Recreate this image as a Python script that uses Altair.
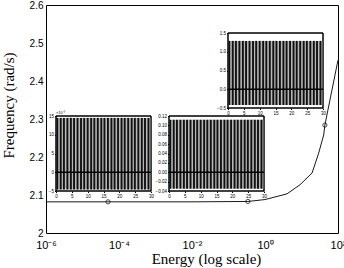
import json
import altair as alt
import pandas as pd

# ---- main curve ----
energy = [1e-6, 5e-5, 1e-2, 0.34, 1.0, 4.0, 9.1, 19.5, 29.5, 40.5, 43.7, 100.0]
freq = [2.082, 2.082, 2.082, 2.083, 2.088, 2.103, 2.127, 2.158, 2.21, 2.258, 2.284, 2.455]
marker_energy = [5e-5, 0.34, 43.7]
marker_freq = [2.082, 2.083, 2.284]

x_ticks = [1e-6, 1e-4, 1e-2, 1, 100]
x_tick_labels = ["10\u207b\u2076", "10\u207b\u2074", "10\u207b\u00b2", "10\u2070", "10\u00b2"]
y_ticks = [2.0, 2.1, 2.2, 2.3, 2.4, 2.5, 2.6]
y_tick_labels = ["2", "2.1", "2.2", "2.3", "2.4", "2.5", "2.6"]

# ---- inset signals (times of oscillation strokes, shared) ----
bar_t = [0.4, 1.5, 2.5, 3.6, 4.7, 5.7, 6.8, 7.9, 8.9, 10.0, 11.1, 12.1, 13.2, 14.3,
         15.3, 16.4, 17.5, 18.5, 19.6, 20.7, 21.7, 22.8, 23.9, 24.9, 26.0, 27.1, 28.1, 29.2]
inset_t_ticks = [0, 5, 10, 15, 20, 25, 30]

in1_low, in1_high = -4.6, 14.5
in1_domain = [-5, 15]
in1_ticks = [-5, 0, 5, 10, 15]

in2_low, in2_high = -0.035, 0.112
in2_domain = [-0.04, 0.12]
in2_ticks = [-0.04, -0.02, 0, 0.02, 0.04, 0.06, 0.08, 0.1, 0.12]

in3_low, in3_high = -0.42, 1.29
in3_domain = [-0.5, 1.5]
in3_ticks = [-0.5, 0, 0.5, 1, 1.5]

W, H = 292, 228
LBL = "Liberation Sans"
SERIF = "Liberation Serif"

main_df = pd.DataFrame({"E": energy, "f": freq})
mk_df = pd.DataFrame({"E": marker_energy, "f": marker_freq})

x_label_expr = json.dumps(x_tick_labels, ensure_ascii=False) + "[round((log(datum.value)/LN10 + 6)/2)]"
y_label_expr = json.dumps(y_tick_labels) + "[round((datum.value - 2) * 10)]"

xs = alt.Scale(type="log", domain=[1e-6, 100], nice=False)
ys = alt.Scale(domain=[2, 2.6], nice=False, zero=False)
xax = alt.Axis(values=x_ticks, labelExpr=x_label_expr, title="Energy (log scale)", orient="bottom",
               domain=False, grid=False, tickSize=0, labelPadding=6, labelFont=LBL,
               labelFontSize=11, labelColor="#000", titleFont=SERIF, titleFontSize=15,
               titleFontWeight="normal", titleColor="#000", titlePadding=1, titleX=160,
               labelOverlap=False, labelFlush=False, labelBound=False)
yax = alt.Axis(values=y_ticks, labelExpr=y_label_expr, title="Frequency (rad/s)", orient="left",
               domain=False, grid=False, tickSize=0, labelPadding=3, labelFont=LBL,
               labelFontSize=10, labelColor="#000", titleFont=SERIF, titleFontSize=15,
               titleFontWeight="normal", titleColor="#000", titlePadding=13, titleY=100,
               labelOverlap=False, labelFlush=False, labelBound=False)

line = alt.Chart(main_df).mark_line(color="#000", strokeWidth=0.9).encode(
    x=alt.X("E:Q", scale=xs, axis=xax), y=alt.Y("f:Q", scale=ys, axis=yax))
pts = alt.Chart(mk_df).mark_point(shape="circle", size=18, color="#000", strokeWidth=1,
                                  filled=False).encode(x=alt.X("E:Q", scale=xs, axis=xax),
                                                       y=alt.Y("f:Q", scale=ys, axis=yax))
main = alt.layer(line, pts)


def inset(xr, yr, dom, ticks, lo, hi, extra=None):
    # xr, yr: pixel ranges of the inset box inside the main plot area
    xsc = alt.Scale(domain=[0, 30], range=list(xr), nice=False, zero=False)
    ysc = alt.Scale(domain=dom, range=[yr[1], yr[0]], nice=False, zero=False)
    ax_x = alt.Axis(values=inset_t_ticks, orient="bottom", offset=yr[1] - H, title=None,
                    domain=False, grid=False, tickSize=1.5, tickColor="#000", labelFont=LBL,
                    labelFontSize=4.5, labelPadding=1, labelColor="#000",
                    labelOverlap=False, labelFlush=False, labelBound=False)
    ax_y = alt.Axis(values=ticks, orient="left", offset=-xr[0], title=None, domain=False,
                    grid=False, tickSize=1.5, tickColor="#000", labelFont=LBL,
                    labelFontSize=4.5, labelPadding=1, labelColor="#000",
                    labelOverlap=False, labelFlush=False, labelBound=False)
    frame_df = pd.DataFrame({"t0": [0], "t1": [30], "v0": [dom[0]], "v1": [dom[1]]})
    band_df = pd.DataFrame({"t0": [0], "t1": [30], "v0": [lo], "v1": [hi]})
    bars_df = pd.DataFrame({"t": bar_t, "v0": [lo] * len(bar_t), "v1": [hi] * len(bar_t)})
    zero_df = pd.DataFrame({"t0": [0], "t1": [30], "v": [0]})
    frame = alt.Chart(frame_df).mark_rect(fill="white", stroke="#000", strokeWidth=1).encode(
        x=alt.X("t0:Q", scale=xsc, axis=ax_x), x2="t1:Q",
        y=alt.Y("v0:Q", scale=ysc, axis=ax_y), y2="v1:Q")
    band = alt.Chart(band_df).mark_rect(fill="#b8b8b8").encode(
        x=alt.X("t0:Q", scale=xsc, axis=ax_x), x2="t1:Q",
        y=alt.Y("v0:Q", scale=ysc, axis=ax_y), y2="v1:Q")
    bars = alt.Chart(bars_df).mark_rule(color="#111", strokeWidth=1.9).encode(
        x=alt.X("t:Q", scale=xsc, axis=ax_x), y=alt.Y("v0:Q", scale=ysc, axis=ax_y), y2="v1:Q")
    zero = alt.Chart(zero_df).mark_rule(color="#000", strokeWidth=1.6).encode(
        x=alt.X("t0:Q", scale=xsc, axis=ax_x), x2="t1:Q", y=alt.Y("v:Q", scale=ysc, axis=ax_y))
    border = alt.Chart(frame_df).mark_rect(fill=None, stroke="#000", strokeWidth=1).encode(
        x=alt.X("t0:Q", scale=xsc, axis=ax_x), x2="t1:Q",
        y=alt.Y("v0:Q", scale=ysc, axis=ax_y), y2="v1:Q")
    layers = [frame, band, bars, zero, border]
    if extra:
        ex_df = pd.DataFrame({"t": [0], "v": [dom[1]], "txt": [extra]})
        layers.append(alt.Chart(ex_df).mark_text(fontSize=4, font=LBL, align="left",
                                                 baseline="bottom", dy=-1, color="#000").encode(
            x=alt.X("t:Q", scale=xsc, axis=ax_x), y=alt.Y("v:Q", scale=ysc, axis=ax_y),
            text="txt:N"))
    return alt.layer(*layers)


in1 = inset((10, 105), (111, 186), in1_domain, in1_ticks, in1_low, in1_high, "\u00d710\u207b\u00b3")
in2 = inset((123, 218), (111, 186), in2_domain, in2_ticks, in2_low, in2_high)
in3 = inset((182, 277), (28, 103), in3_domain, in3_ticks, in3_low, in3_high)

chart = alt.layer(main, in1, in2, in3).resolve_scale(
    x="independent", y="independent").properties(
    width=W, height=H, autosize=alt.AutoSizeParams(type="none"),
    padding={"left": 46, "top": 5, "right": 6, "bottom": 35},
    background="white").configure_view(stroke="#000", strokeWidth=1)

chart.save("out.html", embed_options={"renderer": "svg", "actions": False})
